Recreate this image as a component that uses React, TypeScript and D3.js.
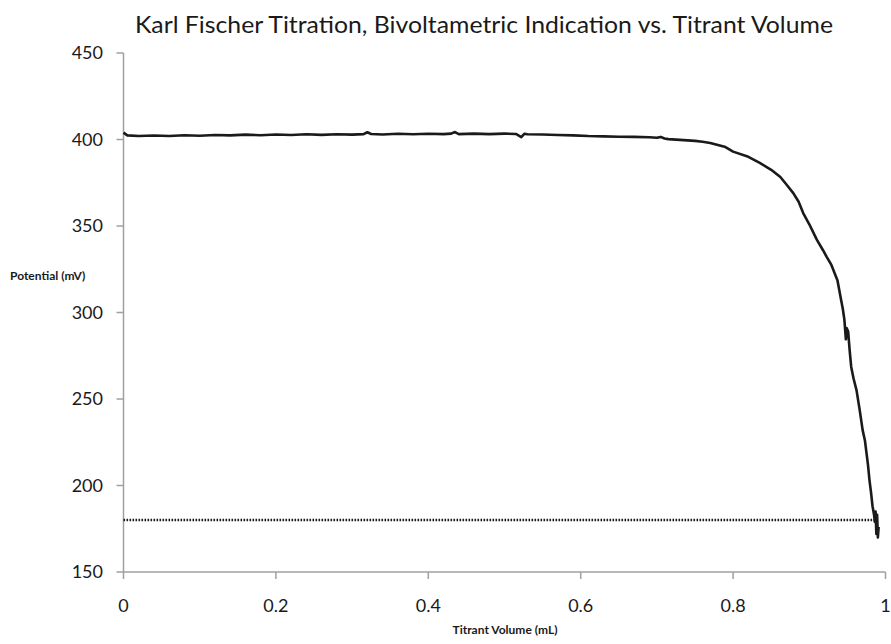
import React from "react";
import * as d3 from "d3";

const volume = [
  0, 0.005, 0.02, 0.04, 0.06, 0.08, 0.1, 0.12, 0.14, 0.16, 0.18, 0.2, 0.22, 0.24, 0.26, 0.28, 0.3,
  0.315, 0.32, 0.325, 0.34, 0.36, 0.38, 0.4, 0.42, 0.43, 0.435, 0.44, 0.46, 0.48, 0.5, 0.515,
  0.522, 0.526, 0.53, 0.55, 0.57, 0.59, 0.61, 0.63, 0.65, 0.67, 0.69, 0.7, 0.705, 0.71, 0.715,
  0.73, 0.75, 0.76, 0.77, 0.78, 0.79, 0.8, 0.82, 0.835, 0.85, 0.862, 0.87, 0.879, 0.886, 0.892,
  0.9, 0.91, 0.918, 0.923, 0.929, 0.933, 0.937, 0.941, 0.944, 0.946, 0.948, 0.949, 0.951, 0.953,
  0.955, 0.958, 0.962, 0.966, 0.97, 0.973, 0.975, 0.977, 0.979, 0.981, 0.983, 0.985, 0.986, 0.987,
  0.988, 0.989, 0.99, 0.991,
];
const potential = [
  404.0, 402.4, 402.0, 402.3, 402.0, 402.5, 402.2, 402.6, 402.4, 402.8, 402.5, 402.9, 402.6,
  403.0, 402.7, 403.0, 402.8, 403.1, 404.2, 403.2, 402.9, 403.3, 403.0, 403.3, 403.1, 403.4,
  404.3, 403.1, 403.4, 403.1, 403.4, 403.2, 401.4, 403.3, 403.0, 402.9, 402.6, 402.4, 402.0,
  401.8, 401.6, 401.5, 401.3, 401.0, 401.5, 400.6, 400.2, 399.8, 399.2, 398.7, 398.0, 396.8,
  395.6, 393.0, 390.0, 386.5, 382.5, 378.3, 374.0, 369.0, 364.0, 357.5, 351.0, 342.0, 336.0,
  332.0, 327.5, 323.0, 318.5, 309.0, 302.0, 296.0, 284.5, 291.0, 289.0, 278.0, 268.5, 262.0,
  255.0, 244.0, 232.0, 226.0, 219.0, 212.0, 203.0, 196.0, 188.0, 183.0, 179.0, 185.0, 172.0,
  183.0, 170.0, 176.0,
];
const endpointLevel = 180;
const xTicks = [0, 0.2, 0.4, 0.6, 0.8, 1];
const yTicks = [150, 200, 250, 300, 350, 400, 450];
const titleText = "Karl Fischer Titration, Bivoltametric Indication vs. Titrant Volume";
const xLabel = "Titrant Volume (mL)";
const yLabel = "Potential (mV)";

export default function App() {
  const W = 891;
  const H = 644;
  const left = 123.5;
  const right = 885.5;
  const top = 53;
  const bottom = 572;
  const x = d3.scaleLinear().domain([0, 1]).range([left, right]);
  const y = d3.scaleLinear().domain([150, 450]).range([bottom, top]);
  const pts: [number, number][] = volume.map((v, i) => [v, potential[i]]);
  const line = d3
    .line<[number, number]>()
    .x((d) => x(d[0]))
    .y((d) => y(d[1]));
  const axisColor = "#a0a0a0";
  const font = "Lato, 'Open Sans', sans-serif";
  return (
    <svg
      width={W}
      height={H}
      style={{ position: "absolute", left: 0, top: 0, background: "#fff" }}
    >
      <text
        x={484}
        y={33}
        textAnchor="middle"
        fontFamily={font}
        fontSize={22.5}
        fill="#1a1a1a"
        textLength={698}
        lengthAdjust="spacingAndGlyphs"
      >
        {titleText}
      </text>
      {/* axes */}
      <line x1={left} x2={left} y1={top} y2={bottom} stroke={axisColor} strokeWidth={1.5} />
      <line x1={left} x2={right} y1={bottom} y2={bottom} stroke={axisColor} strokeWidth={1.5} />
      {yTicks.map((t) => (
        <g key={"y" + t}>
          <line x1={left - 7} x2={left} y1={y(t)} y2={y(t)} stroke={axisColor} strokeWidth={1.5} />
          <text
            x={103}
            y={y(t) + 6}
            textAnchor="end"
            fontFamily={font}
            fontSize={18}
            fill="#1a1a1a"
          >
            {t}
          </text>
        </g>
      ))}
      {xTicks.map((t) => (
        <g key={"x" + t}>
          <line x1={x(t)} x2={x(t)} y1={bottom} y2={bottom + 7} stroke={axisColor} strokeWidth={1.5} />
          <text x={x(t)} y={612} textAnchor="middle" fontFamily={font} fontSize={18} fill="#1a1a1a">
            {t}
          </text>
        </g>
      ))}
      <text x={505} y={634} textAnchor="middle" fontFamily={font} fontWeight="bold" fontSize={12} fill="#1a1a1a">
        {xLabel}
      </text>
      <text x={10} y={280} fontFamily={font} fontWeight="bold" fontSize={12} fill="#1a1a1a">
        {yLabel}
      </text>
      {/* endpoint dotted line */}
      <line
        x1={x(0)}
        x2={x(0.99)}
        y1={y(endpointLevel)}
        y2={y(endpointLevel)}
        stroke="#1a1a1a"
        strokeWidth={2.5}
        strokeDasharray="1.6,1.4"
      />
      <path d={line(pts) || ""} fill="none" stroke="#1a1a1a" strokeWidth={2.6} strokeLinejoin="round" />
    </svg>
  );
}
